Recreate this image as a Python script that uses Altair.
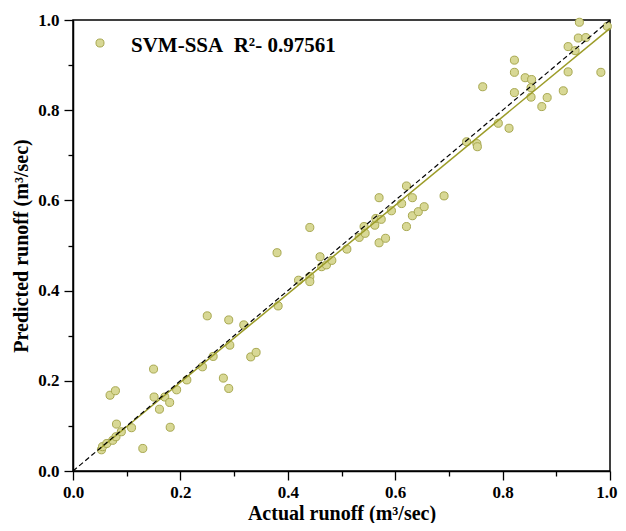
import altair as alt
import pandas as pd

actual = [0.053, 0.055, 0.063, 0.074, 0.080, 0.090, 0.069, 0.079, 0.081, 0.109,
          0.130, 0.151, 0.150, 0.161, 0.171, 0.180, 0.181, 0.193, 0.212, 0.241,
          0.261, 0.250, 0.280, 0.290, 0.292, 0.290, 0.318, 0.331, 0.341, 0.380,
          0.382, 0.420, 0.441, 0.441, 0.441, 0.460, 0.463, 0.472, 0.482, 0.510,
          0.533, 0.542, 0.544, 0.562, 0.564, 0.574, 0.570, 0.570, 0.582, 0.593,
          0.612, 0.621, 0.632, 0.621, 0.632, 0.643, 0.654, 0.691, 0.733, 0.752,
          0.753, 0.763, 0.792, 0.812, 0.822, 0.822, 0.822, 0.842, 0.854, 0.853,
          0.853, 0.873, 0.883, 0.913, 0.922, 0.922, 0.935, 0.941, 0.955, 0.943,
          0.983, 0.995]
predicted = [0.047, 0.054, 0.061, 0.068, 0.076, 0.087, 0.168, 0.178, 0.104, 0.096,
             0.050, 0.164, 0.226, 0.137, 0.164, 0.152, 0.097, 0.180, 0.202, 0.231,
             0.254, 0.344, 0.206, 0.183, 0.279, 0.335, 0.324, 0.253, 0.263, 0.484,
             0.366, 0.423, 0.431, 0.420, 0.540, 0.475, 0.453, 0.457, 0.467, 0.492,
             0.518, 0.542, 0.527, 0.545, 0.560, 0.558, 0.606, 0.506, 0.516, 0.577,
             0.593, 0.632, 0.606, 0.542, 0.566, 0.575, 0.586, 0.610, 0.730, 0.726,
             0.719, 0.852, 0.771, 0.760, 0.911, 0.884, 0.839, 0.872, 0.868, 0.850,
             0.829, 0.808, 0.828, 0.843, 0.885, 0.941, 0.932, 0.960, 0.961, 0.995,
             0.884, 0.986]

ref_x = [0.0, 1.0]
ref_y = [0.0, 1.0]

legend_label = "SVM-SSA\u00a0\u00a0R\u00b2- 0.97561"

df = pd.DataFrame({"actual": actual, "predicted": predicted})
ref = pd.DataFrame({"actual": ref_x, "predicted": ref_y})

FONT = "Liberation Serif"
PT_FILL = "#d8d895"
PT_STROKE = "#a8a850"
FIT = "#9c9c28"

tick_vals = [round(i * 0.1, 1) for i in range(11)]
even = "abs(round(datum.value*10) % 2) == 0"
last = "datum.value >= 0.999"

x_scale = alt.Scale(domain=[0, 1], nice=False)
y_scale = alt.Scale(domain=[0, 1], nice=False)

common = dict(
    values=tick_vals, labelExpr=f"({even}) ? format(datum.value, '.1f') : ''",
    grid=False, domainColor="black", domainWidth=1.5, tickColor="black", tickWidth=1.3,
    tickSize={"condition": {"test": even, "value": 9}, "value": 5},
    labelFont=FONT, labelFontSize=17, labelFontWeight="bold", labelColor="black",
    labelFlush=False, labelOverlap=False,
    titleFont=FONT, titleFontSize=20, titleFontWeight="bold", titleColor="black",
)

x_axis = alt.Axis(title="Actual runoff (m\u00b3/sec)", labelPadding=4,
                  titlePadding=3,
                  labelAlign={"condition": {"test": last, "value": "right"}, "value": "center"},
                  labelOffset={"condition": {"test": last, "value": 7}, "value": 0},
                  **common)
y_axis = alt.Axis(title="Predicted runoff (m\u00b3/sec)", labelPadding=5,
                  titlePadding=6, **common)

points = alt.Chart(df).mark_circle(
    size=65, fill=PT_FILL, stroke=PT_STROKE, strokeWidth=1, opacity=1
).encode(
    x=alt.X("actual:Q", scale=x_scale, axis=x_axis),
    y=alt.Y("predicted:Q", scale=y_scale, axis=y_axis),
)

fit = alt.Chart(df).transform_regression(
    "actual", "predicted", extent=[0.05, 1.0]
).mark_line(color=FIT, strokeWidth=1.5).encode(
    x=alt.X("actual:Q", scale=x_scale),
    y=alt.Y("predicted:Q", scale=y_scale),
)

diag = alt.Chart(ref).mark_line(
    color="black", strokeWidth=1.2, strokeDash=[5, 3]
).encode(
    x=alt.X("actual:Q", scale=x_scale),
    y=alt.Y("predicted:Q", scale=y_scale),
)

leg_pt = alt.Chart(pd.DataFrame({"t": [legend_label]})).mark_circle(
    size=65, fill=PT_FILL, stroke=PT_STROKE, strokeWidth=1, opacity=1
).encode(x=alt.value(27), y=alt.value(23))

leg_txt = alt.Chart(pd.DataFrame({"t": [legend_label]})).mark_text(
    font=FONT, fontSize=21, fontWeight="bold", color="black",
    align="left", baseline="middle"
).encode(x=alt.value(58), y=alt.value(26), text="t:N")

chart = alt.layer(points, fit, diag, leg_pt, leg_txt).properties(
    width=537, height=451,
    autosize=alt.AutoSizeParams(type="none"),
    padding={"left": 65, "top": 12, "right": 8, "bottom": 52},
).configure_view(stroke="black", strokeWidth=1.5)

chart.save("out.html", embed_options={"renderer": "svg", "actions": False})
